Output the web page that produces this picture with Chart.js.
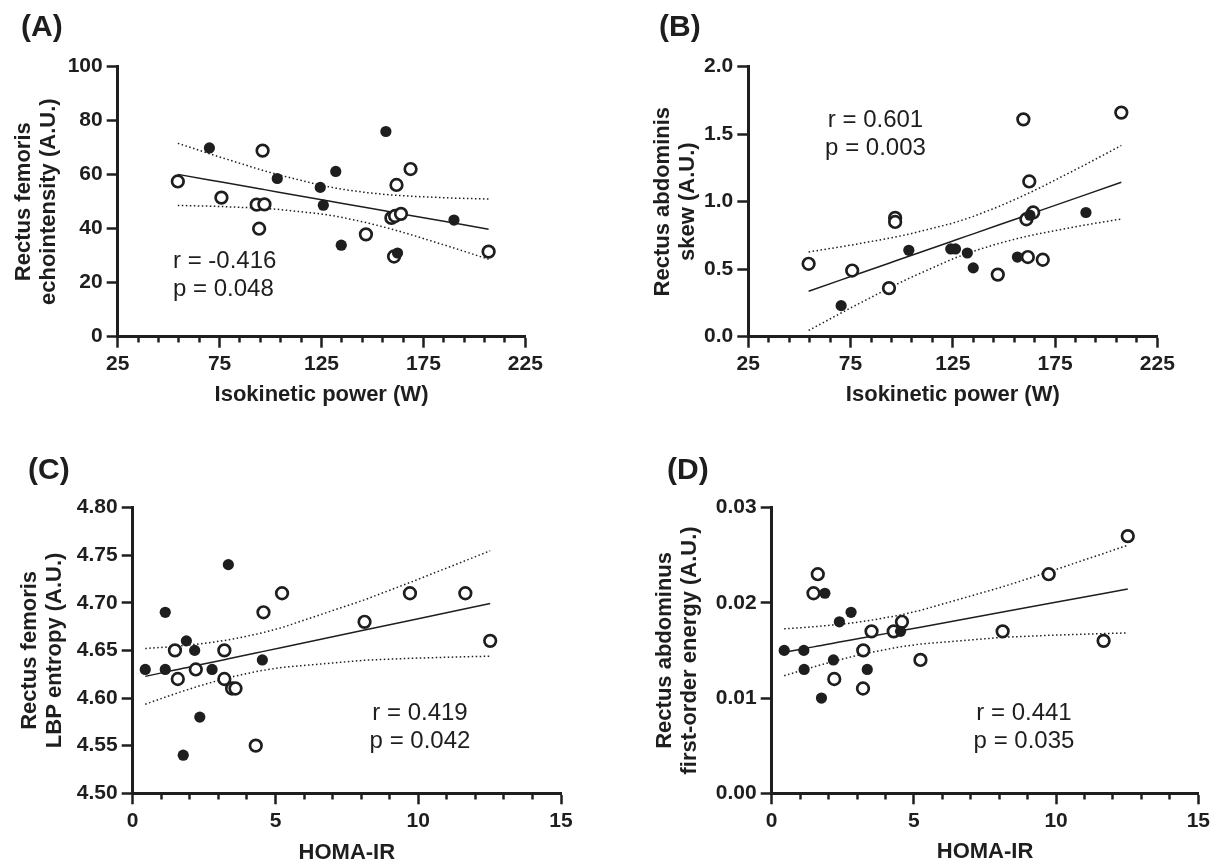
<!DOCTYPE html>
<html>
<head>
<meta charset="utf-8">
<script src="https://cdn.jsdelivr.net/npm/chart.js@4.4.1/dist/chart.umd.min.js"></script>
<style>
  html, body { margin: 0; padding: 0; background: #fff; }
  body { width: 1214px; height: 865px; position: relative; overflow: hidden; }
  canvas { position: absolute; }
  #cA { left: 0; top: 0; }
  #cB { left: 600px; top: 0; }
  #cC { left: 0; top: 430px; }
  #cD { left: 600px; top: 430px; }
</style>
</head>
<body>
<canvas id="cA" width="600" height="430"></canvas>
<canvas id="cB" width="614" height="430"></canvas>
<canvas id="cC" width="600" height="435"></canvas>
<canvas id="cD" width="614" height="435"></canvas>
<script>
/* ── Panel A: RF echointensity vs isokinetic power ───────────── */
const aOpenX = [54.5, 75.9, 96.1, 93.2, 97, 94.4, 146.8, 168.7, 161.8, 159.3, 161.1, 164, 160.6, 207];
const aOpenY = [57.5, 51.5, 68.9, 48.9, 49, 40, 37.9, 62.1, 56.2, 44, 44.7, 45.5, 29.7, 31.5];
const aFillX = [70, 103.3, 124.4, 132, 125.9, 134.7, 156.6, 162.3, 190];
const aFillY = [69.9, 58.6, 55.3, 61.2, 48.7, 33.9, 76, 31, 43.2];
const aYTicks = [0, 20, 40, 60, 80, 100];
const aStats = ["r = -0.416", "p = 0.048"];

/* ── Panel B: RA skew vs isokinetic power ────────────────────── */
const bOpenX = [54.5, 75.8, 93.8, 96.8, 96.8, 147, 159.5, 162.4, 161, 164.3, 161.7, 169, 207.4];
const bOpenY = [0.54, 0.49, 0.36, 0.88, 0.85, 0.46, 1.61, 1.15, 0.87, 0.92, 0.59, 0.57, 1.66];
const bFillX = [70.4, 103.5, 124, 126.3, 132.1, 135, 156.6, 162.7, 190.1];
const bFillY = [0.23, 0.64, 0.65, 0.65, 0.62, 0.51, 0.59, 0.90, 0.92];
const bYTicks = [0, 0.5, 1.0, 1.5, 2.0];
const bStats = ["r = 0.601", "p = 0.003"];

/* ── Panel C: RF LBP entropy vs HOMA-IR ──────────────────────── */
const cOpenX = [1.48, 1.58, 2.21, 3.21, 3.21, 3.48, 3.6, 4.31, 4.58, 5.23, 8.12, 9.71, 11.65, 12.52];
const cOpenY = [4.65, 4.62, 4.63, 4.65, 4.62, 4.61, 4.61, 4.55, 4.69, 4.71, 4.68, 4.71, 4.71, 4.66];
const cFillX = [0.44, 1.14, 1.14, 1.88, 2.17, 2.78, 2.35, 1.77, 3.35, 4.54];
const cFillY = [4.63, 4.69, 4.63, 4.66, 4.65, 4.63, 4.58, 4.54, 4.74, 4.64];
const cYTicks = [4.50, 4.55, 4.60, 4.65, 4.70, 4.75, 4.80];
const cStats = ["r = 0.419", "p = 0.042"];

/* ── Panel D: RA first-order energy vs HOMA-IR ───────────────── */
const dOpenX = [1.62, 1.47, 2.2, 3.22, 3.21, 3.51, 4.29, 4.58, 5.23, 8.12, 9.74, 11.67, 12.52];
const dOpenY = [0.023, 0.021, 0.012, 0.015, 0.011, 0.017, 0.017, 0.018, 0.014, 0.017, 0.023, 0.016, 0.027];
const dFillX = [0.44, 1.13, 1.14, 1.87, 1.75, 2.17, 2.38, 2.79, 3.36, 4.53];
const dFillY = [0.015, 0.015, 0.013, 0.021, 0.010, 0.014, 0.018, 0.019, 0.013, 0.017];
const dYTicks = [0, 0.01, 0.02, 0.03];
const dStats = ["r = 0.441", "p = 0.035"];

/* ── Shared x axes ───────────────────────────────────────────── */
const powerTicks = [25, 75, 125, 175, 225];
const homaTicks = [0, 5, 10, 15];
const MINOR_PER_MAJOR = 5;
const T_CRIT = 2.08; // 95% two-sided, df ~ 21

const INK = "#1e1e1e";
const FONT = '"Liberation Sans", Arial, Helvetica, sans-serif';
Chart.defaults.font.family = FONT;
Chart.defaults.color = INK;

/* ── helpers ─────────────────────────────────────────────────── */
const toPts = (xs, ys) => xs.map((x, i) => ({ x, y: ys[i] }));

function fitLine(pts) {
    const n = pts.length;
    const mx = pts.reduce((s, p) => s + p.x, 0) / n;
    const my = pts.reduce((s, p) => s + p.y, 0) / n;
    let sxx = 0, sxy = 0;
    pts.forEach(p => { sxx += (p.x - mx) ** 2; sxy += (p.x - mx) * (p.y - my); });
    const b = sxy / sxx, a = my - b * mx;
    let sse = 0;
    pts.forEach(p => { sse += (p.y - a - b * p.x) ** 2; });
    const s = Math.sqrt(sse / (n - 2));
    return {
        at: x => a + b * x,
        half: x => T_CRIT * s * Math.sqrt(1 / n + (x - mx) ** 2 / sxx),
    };
}

function withMinors(majors) {
    const out = [];
    majors.forEach((m, i) => {
        out.push(m);
        if (i < majors.length - 1) {
            const step = (majors[i + 1] - m) / MINOR_PER_MAJOR;
            for (let k = 1; k < MINOR_PER_MAJOR; k++) out.push(m + k * step);
        }
    });
    return out;
}

const panelText = {
    id: "panelText",
    afterDraw(chart, args, o) {
        const { ctx } = chart;
        ctx.save();
        ctx.fillStyle = INK;
        ctx.textBaseline = "alphabetic";
        ctx.textAlign = "left";
        ctx.font = `bold 30px ${FONT}`;
        ctx.fillText(o.label, o.labelX, o.labelY);
        ctx.font = `24px ${FONT}`;
        ctx.textAlign = o.statAlign;
        o.stats.forEach((t, i) => ctx.fillText(t, o.statX, o.statY + i * o.statGap));
        ctx.restore();
    },
};

/* ── one panel ───────────────────────────────────────────────── */
function makePanel(id, p) {
    const canvas = document.getElementById(id);
    const g = p.geo;
    const xh = g.xTitleY + 11 - g.bottom;
    const open = toPts(p.openX, p.openY);
    const filled = toPts(p.fillX, p.fillY);
    const all = open.concat(filled);
    const fit = fitLine(all);
    const xs = [...new Set(all.map(d => d.x))].sort((a, b) => a - b);
    const isMajor = v => p.xMajor.some(m => Math.abs(m - v) < 1e-9);
    const xTickValues = withMinors(p.xMajor);

    const lineStyle = { type: "line", borderColor: INK, pointRadius: 0, fill: false, tension: 0, order: 1 };

    return new Chart(canvas, {
        type: "scatter",
        data: {
            datasets: [
                { data: filled, backgroundColor: INK, borderColor: INK, borderWidth: 0, pointRadius: 5.6, order: 0 },
                { data: open, backgroundColor: "#fff", borderColor: INK, borderWidth: 2.7, pointRadius: 5.8, order: 0 },
                { ...lineStyle, data: xs.map(x => ({ x, y: fit.at(x) })), borderWidth: 1.5 },
                { ...lineStyle, data: xs.map(x => ({ x, y: fit.at(x) + fit.half(x) })), borderWidth: 1.5, borderDash: [1.5, 2.5] },
                { ...lineStyle, data: xs.map(x => ({ x, y: fit.at(x) - fit.half(x) })), borderWidth: 1.5, borderDash: [1.5, 2.5] },
            ],
        },
        options: {
            responsive: false,
            animation: false,
            events: [],
            layout: {
                padding: { left: 0, top: g.top, right: canvas.width - g.right, bottom: canvas.height - g.xTitleY - 11 },
            },
            plugins: {
                legend: { display: false },
                tooltip: { enabled: false },
                panelText: {
                    label: p.label, labelX: g.labelX, labelY: g.labelY,
                    stats: p.stats, statX: g.statX, statY: g.statY, statGap: 28, statAlign: g.statAlign,
                },
            },
            scales: {
                x: {
                    type: "linear",
                    min: p.xMajor[0],
                    max: p.xMajor[p.xMajor.length - 1],
                    afterBuildTicks: s => { s.ticks = xTickValues.map(v => ({ value: v })); },
                    afterFit: s => { s.height = xh; },
                    grid: {
                        drawOnChartArea: false, drawTicks: true, tickLength: 11, tickWidth: 2.5, tickColor: INK,
                        tickBorderDash: c => (c.tick && !isMajor(c.tick.value)) ? [4.5, 40] : [],
                    },
                    border: { display: true, color: INK, width: 3 },
                    ticks: {
                        autoSkip: false, maxRotation: 0, padding: 4, color: INK,
                        font: { size: 21, weight: "bold" },
                        callback: v => isMajor(v) ? String(Math.round(v)) : "",
                    },
                    title: {
                        display: true, text: p.xTitle, color: INK, padding: 0,
                        font: { size: 22, weight: "bold", lineHeight: 1 },
                    },
                },
                y: {
                    type: "linear",
                    min: p.yTicks[0],
                    max: p.yTicks[p.yTicks.length - 1],
                    afterBuildTicks: s => { s.ticks = p.yTicks.map(v => ({ value: v })); },
                    afterFit: s => { s.width = g.left; },
                    grid: { drawOnChartArea: false, drawTicks: true, tickLength: 11, tickWidth: 2.5, tickColor: INK },
                    border: { display: true, color: INK, width: 3 },
                    ticks: {
                        autoSkip: false, padding: 4, color: INK,
                        font: { size: 21, weight: "bold" },
                        callback: v => v.toFixed(p.yDec),
                    },
                    title: {
                        display: true, text: p.yTitle, color: INK,
                        padding: { top: g.yTitlePad, bottom: 0 },
                        font: { size: 22, weight: "bold", lineHeight: 25 / 22 },
                    },
                },
            },
        },
        plugins: [panelText],
    });
}

makePanel("cA", {
    openX: aOpenX, openY: aOpenY, fillX: aFillX, fillY: aFillY,
    xMajor: powerTicks, yTicks: aYTicks, yDec: 0,
    xTitle: "Isokinetic power (W)", yTitle: ["Rectus femoris", "echointensity (A.U.)"],
    label: "(A)", stats: aStats,
    geo: { left: 117.7, right: 525.3, top: 66.7, bottom: 336.7, xTitleY: 395, yTitlePad: 11,
           labelX: 21, labelY: 36, statX: 173, statY: 267.5, statAlign: "left" },
});

makePanel("cB", {
    openX: bOpenX, openY: bOpenY, fillX: bFillX, fillY: bFillY,
    xMajor: powerTicks, yTicks: bYTicks, yDec: 1,
    xTitle: "Isokinetic power (W)", yTitle: ["Rectus abdominis", "skew (A.U.)"],
    label: "(B)", stats: bStats,
    geo: { left: 148.3, right: 557.3, top: 66.7, bottom: 336.7, xTitleY: 395, yTitlePad: 50.5,
           labelX: 59, labelY: 36, statX: 275.5, statY: 126.5, statAlign: "center" },
});

makePanel("cC", {
    openX: cOpenX, openY: cOpenY, fillX: cFillX, fillY: cFillY,
    xMajor: homaTicks, yTicks: cYTicks, yDec: 2,
    xTitle: "HOMA-IR", yTitle: ["Rectus femoris", "LBP entropy (A.U.)"],
    label: "(C)", stats: cStats,
    geo: { left: 132.7, right: 561, top: 77.5, bottom: 363.3, xTitleY: 422.5, yTitlePad: 17.5,
           labelX: 28, labelY: 49, statX: 420, statY: 289.5, statAlign: "center" },
});

makePanel("cD", {
    openX: dOpenX, openY: dOpenY, fillX: dFillX, fillY: dFillY,
    xMajor: homaTicks, yTicks: dYTicks, yDec: 2,
    xTitle: "HOMA-IR", yTitle: ["Rectus abdominus", "first-order energy (A.U.)"],
    label: "(D)", stats: dStats,
    geo: { left: 171.7, right: 601, top: 77.5, bottom: 363.3, xTitleY: 421.7, yTitlePad: 52,
           labelX: 67, labelY: 49, statX: 424, statY: 289.5, statAlign: "center" },
});
</script>
</body>
</html>
